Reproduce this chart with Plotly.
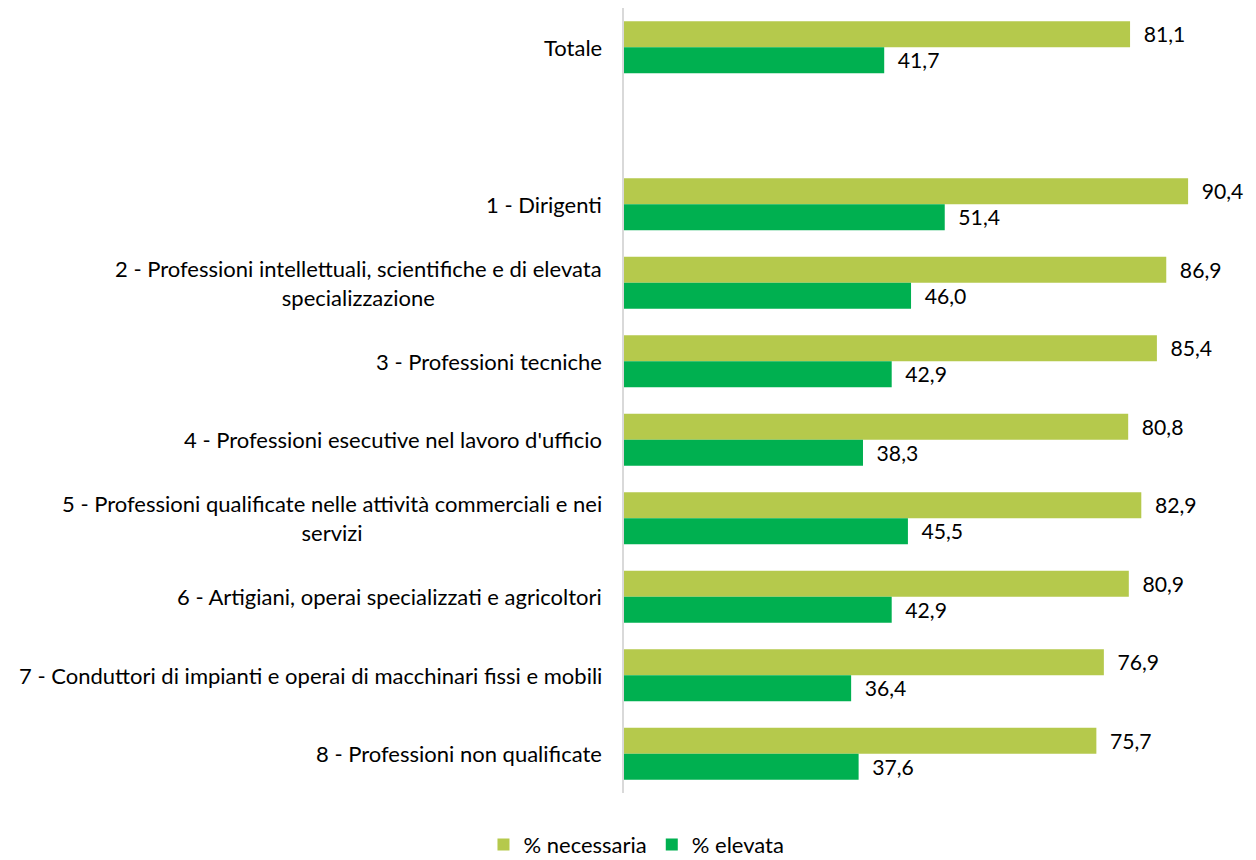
import plotly.graph_objects as go

categories = [
    "Totale",
    " ",
    "1 - Dirigenti",
    "2 - Professioni intellettuali, scientifiche e di elevata<br>specializzazione",
    "3 - Professioni tecniche",
    "4 - Professioni esecutive nel lavoro d'ufficio",
    "5 - Professioni qualificate nelle attività commerciali e nei<br>servizi",
    "6 - Artigiani, operai specializzati e agricoltori",
    "7 - Conduttori di impianti e operai di macchinari fissi e mobili",
    "8 - Professioni non qualificate",
]
necessaria = [81.1, None, 90.4, 86.9, 85.4, 80.8, 82.9, 80.9, 76.9, 75.7]
elevata = [41.7, None, 51.4, 46.0, 42.9, 38.3, 45.5, 42.9, 36.4, 37.6]
series_names = ["% necessaria", "% elevata"]
colors = ["#B5C94C", "#00B050"]

FONT = "Lato"
FS = 22
fig = go.Figure()
for name, vals, col in zip(series_names, [necessaria, elevata], colors):
    ys = [c for c, v in zip(categories, vals) if v is not None]
    xs = [v for v in vals if v is not None]
    fig.add_trace(go.Bar(
        y=ys, x=xs, name=name, orientation="h",
        marker=dict(color=col, line=dict(width=0)),
        texttemplate="\u2002%{x:.1f}", textposition="outside",
        textfont=dict(family=FONT, size=FS, color="#000000"),
        cliponaxis=False, hoverinfo="skip",
    ))

for c in categories:
    if c.strip():
        fig.add_annotation(
            x=0, xref="paper", y=c, yref="y", text=c, showarrow=False,
            xanchor="right", align="center", xshift=-20,
            font=dict(family=FONT, size=FS, color="#000000"),
        )

fig.update_layout(
    width=1256, height=860,
    margin=dict(l=616, r=16, t=0, b=75),
    barmode="group", bargap=0.338, bargroupgap=0,
    separators=",.",
    plot_bgcolor="white", paper_bgcolor="white",
    font=dict(family=FONT, size=FS, color="#000000"),
    showlegend=True,
    legend=dict(orientation="h", x=0.02, xanchor="center",
                y=-0.066, yanchor="middle",
                font=dict(family=FONT, size=FS, color="#000000")),
    xaxis=dict(range=[0, 100], showgrid=False, showticklabels=False,
               zeroline=False, showline=False, ticks=""),
    yaxis=dict(type="category", categoryorder="array", categoryarray=categories,
               range=[len(categories) - 0.5, -0.5],
               showticklabels=False, showgrid=False,
               showline=True, linecolor="#D9D9D9", linewidth=2, ticks=""),
)

fig.write_html("out.html")
